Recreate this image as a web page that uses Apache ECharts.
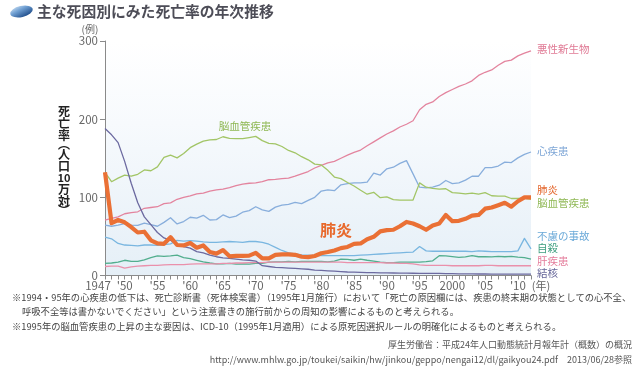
<!DOCTYPE html>
<html><head><meta charset="utf-8">
<script src="https://cdn.jsdelivr.net/npm/echarts@6/dist/echarts.min.js"></script>
<style>html,body{margin:0;padding:0;background:#fff}#c{width:641px;height:392px}</style>
</head><body><div id="c"></div>
<script>
const years = [1947,1948,1949,1950,1951,1952,1953,1954,1955,1956,
 1957,1958,1959,1960,1961,1962,1963,1964,1965,1966,
 1967,1968,1969,1970,1971,1972,1973,1974,1975,1976,
 1977,1978,1979,1980,1981,1982,1983,1984,1985,1986,
 1987,1988,1989,1990,1991,1992,1993,1994,1995,1996,
 1997,1998,1999,2000,2001,2002,2003,2004,2005,2006,
 2007,2008,2009,2010,2011,2012];
const neoplasm = [70.8,73,75,79,80.5,81.5,86,87,88,92,
 93,97.5,100,102,104.5,105.5,108,109.5,110.5,112.5,
 115,117,118,118.5,120,122.5,123,124,124.5,127,
 130,133,137.5,141,144,146,150,154,157.5,160.5,
 166,171,176,181,185,190,193.5,198,212,219,
 222,229,234,238,242,245,249,256,260,263,
 269,274,275.5,281,284.5,287.5];
const heart = [64.5,63,64.5,66.5,64.5,64,67,65,63,68,
 74,66,69,74.5,73.5,77,71,71.5,77.5,74,
 76,81,83,88,84,82,87.5,90,91,93.5,
 92,96,100,108,109.5,108.5,116,117.5,118.5,118.5,
 119.5,131,128.5,136.5,138.5,143.5,147,130,113,112,
 113,115.5,121.5,117.5,118.5,122,127,127,138,138,
 140,145,144.5,150.5,155,158];
const cerebro = [132,120,124.5,128.5,127,129.5,135,134,139,151,
 154,150.5,156,163.5,168,172,173.5,174,177.5,175.5,
 175,175,176.5,178,172.5,169,168.5,165,160,157,
 152,148,142.5,141.5,134.5,126,124,119,114.5,109,
 104,106.5,99.5,100.5,97,96.5,96.5,96.5,118.5,113,
 111.5,110.5,111,106,105.5,104.5,105.5,104,106,102,
 101.5,101.5,98.5,98.5,99,97.5];
const pneumonia = [132,67,71,68,62,55,56,45,41,40.5,
 49,39,38.5,41.5,35.5,38.5,30,28,32.5,24.5,
 25,25,25.5,29,22,22,26.5,27,27,26.5,
 24,23.5,25,28.5,30,32,35,36.5,40.5,41,
 46.5,49.5,56.5,58,58.5,63,68.5,66.5,63,58.5,
 64,66.5,77.5,69.5,70,72.5,76.5,77.5,85.5,87,
 90,93,88,95,100,100];
const accident = [49,47,41,39,38.5,38,39,39,38.5,39.5,
 40.5,45,44,44.5,44,43,42.5,42.5,43,43.5,
 43,42.5,43.5,43.5,42.5,40,36,32,29,27.5,
 26.5,26,25.5,25.5,25.5,25.5,25.5,25.5,25.5,26,
 26.5,27,27.5,28,28.5,29,29.5,30,37,31.5,
 31,31,31,31,31,31,30.5,31.5,31,30.5,
 30.5,30.5,30.5,31.5,47.5,34];
const suicide = [15.5,16,17,19.5,18,18,20,23,25,24.5,
 25,26,23,21.5,19.5,17.5,16,15,15,15.5,
 14.5,15,14.5,15.5,15.5,17,17.5,17.5,18,17.5,
 18,18,18,18,17.5,18.5,21,20.5,19.5,21,
 19.5,18.5,17,16.5,16.5,17,17,17,17.2,17.8,
 18.8,25.4,25,24.1,23.3,23.8,25.5,24,24.2,23.7,
 24.4,24,24.4,23.4,22.9,21];
const liver = [11.5,12,12,9.5,11,12,12.5,13,13,13.5,
 14,14,14,14.5,15,15,15,15,15.5,15.5,
 16,16,16.5,16.5,16.5,17,17,17,17,17,
 17,17,17,17,17,17,17,16.5,16.5,16.5,
 16.5,16.5,16.5,16,16,15.5,15.5,15,13.5,13,
 13,13,13,12.5,12.5,12.5,12.5,12.5,13,13,
 12.5,12.5,12.5,12.5,12.5,12.5];
const tb = [188,180,170,146,118,93,75,65,55,48,
 45,39.5,37,35,30.5,29,26,24,22.5,22,
 21,20,19.5,18.5,12.5,11.5,10.5,10,9.5,9,
 8.5,8,7,6.5,6,5.5,5,4.5,4.3,4,
 3.8,3.6,3.4,3.3,3.2,3.1,3,2.9,2.8,2.7,
 2.6,2.6,2.5,2.3,2.2,2.1,2,1.9,1.9,1.8,
 1.8,1.8,1.7,1.7,1.7,1.7];
const xLabelYears = [1947,1950,1955,1960,1965,1970,1975,1980,1985,1990,1995,2000,2005,2010];
const xLabelTexts = ['1947',"'50","'55","'60","'65","'70","'75","'80","'85","'90","'95",'2000',"'05","'10"];
const yTicks = [0,100,200,300];

const FONT = '"Noto Sans CJK JP","Noto Sans",sans-serif';
const pairs = arr => years.map((y,i)=>[y,arr[i]]);
const seriesDefs = [
  {name:'悪性新生物', data:neoplasm, color:'#e3849e', w:1.3},
  {name:'心疾患', data:heart, color:'#88aedc', w:1.3},
  {name:'脳血管疾患', data:cerebro, color:'#a2c566', w:1.3},
  {name:'不慮の事故', data:accident, color:'#79b6e0', w:1.3},
  {name:'自殺', data:suicide, color:'#52ae8e', w:1.3},
  {name:'肝疾患', data:liver, color:'#ea90ab', w:1.3},
  {name:'結核', data:tb, color:'#6c6aa0', w:1.3},
  {name:'肺炎', data:pneumonia, color:'#ea7035', w:4.2}
];

function txt(x,y,text,color,size,opts){
  opts = opts||{};
  return {type:'text', x:x, y:y, silent:true, z:100,
    style:Object.assign({text:text, fill:color, fontSize:size, fontFamily:FONT,
      textAlign:opts.align||'left', textVerticalAlign:'middle', fontWeight:opts.weight||'normal'}, opts.extra||{})};
}

const chart = echarts.init(document.getElementById('c'), null, {renderer:'canvas'});
const option = {
  animation:false,
  backgroundColor:'#ffffff',
  grid:{left:105, right:110, top:41, bottom:116.5, show:true, borderWidth:0,
    backgroundColor:{type:'linear',x:0,y:0,x2:0,y2:1,colorStops:[
      {offset:0,color:'#ffffff'},{offset:0.35,color:'#f7fafd'},{offset:1,color:'#e5eff7'}]}},
  xAxis:{type:'value', min:1947, max:2012, interval:1,
    axisLine:{lineStyle:{color:'#8a8a8a', width:1}},
    axisTick:{length:4, lineStyle:{color:'#8a8a8a', width:1}},
    splitLine:{show:false},
    axisLabel:{color:'#666', fontSize:11.5, fontFamily:FONT, margin:4,
      formatter:function(v){
        const i = xLabelYears.indexOf(v);
        if(i<0) return '';
        if(v===1947) return '{r|'+xLabelTexts[i]+'}';
        return xLabelTexts[i];
      },
      rich:{r:{color:'#666', fontSize:11.5, fontFamily:FONT, padding:[0,14,0,0]}}
    }},
  yAxis:{type:'value', min:yTicks[0], max:yTicks[yTicks.length-1], interval:100,
    axisLine:{show:true, lineStyle:{color:'#8a8a8a', width:1}},
    axisTick:{show:true, length:5, lineStyle:{color:'#8a8a8a'}},
    splitLine:{show:false},
    axisLabel:{color:'#666', fontSize:11.5, fontFamily:FONT, margin:7}},
  series: seriesDefs.map(s=>({type:'line', name:s.name, data:pairs(s.data), showSymbol:false, symbol:'none',
    silent:true, z: s.w>2?5:2, lineStyle:{color:s.color, width:s.w, join:'round'}})),
  graphic:[
    {type:'circle', x:21.5, y:11.5, rotation:0.22, scaleY:0.48, silent:true, shape:{cx:0,cy:0,r:11.5},
      style:{fill:{type:'linear',x:0,y:0,x2:0.6,y2:1,colorStops:[{offset:0,color:'#cfe2f4'},{offset:0.45,color:'#6f9fd2'},{offset:1,color:'#24528f'}]}}},
    txt(37,11,'主な死因別にみた死亡率の年次推移','#4d4d57',14.8,{weight:'bold'}),
    txt(90,29,'(例)','#666',10,{align:'center'}),
    txt(541,286,'(年)','#666',11,{align:'center'}),
    {type:'text', x:64, y:105, silent:true, z:100, style:{
      text:'{a|死}\n{a|亡}\n{a|率}\n{p|︵}\n{a|人}\n{a|口}\n{d|10}\n{a|万}\n{a|対}\n{p|︶}',
      textAlign:'center', textVerticalAlign:'top', fill:'#222', fontFamily:FONT,
      rich:{a:{fontSize:12, fontWeight:'bold', lineHeight:12, fill:'#222', fontFamily:FONT},
            p:{fontSize:12, fontWeight:'bold', lineHeight:7, fill:'#222', fontFamily:FONT},
            d:{fontSize:11, fontWeight:'bold', lineHeight:11, fill:'#222', fontFamily:FONT}}}},
    txt(537,49,'悪性新生物','#e07a95',10.5),
    txt(537,151.5,'心疾患','#7ea6d6',10.5),
    txt(537,190.5,'肺炎','#e4662c',10.5),
    txt(537,203,'脳血管疾患','#8fb854',10.5),
    txt(537,236,'不慮の事故','#6aa9d8',10.5),
    txt(537,248,'自殺','#3f9f80',10.5),
    txt(537,261,'肝疾患','#e47c9b',10.5),
    txt(537,273,'結核','#67679a',10.5),
    txt(245,126.5,'脳血管疾患','#8fb854',10.5,{align:'center'}),
    txt(336,230,'肺炎','#e8692c',16,{align:'center', weight:'bold'}),
    txt(12,297,'※1994・95年の心疾患の低下は、死亡診断書（死体検案書）（1995年1月施行）において「死亡の原因欄には、疾患の終末期の状態としての心不全、','#444',9.3),
    txt(22,311.5,'呼吸不全等は書かないでください」という注意書きの施行前からの周知の影響によるものと考えられる。','#444',9.3),
    txt(12,326.5,'※1995年の脳血管疾患の上昇の主な要因は、ICD-10（1995年1月適用）による原死因選択ルールの明確化によるものと考えられる。','#444',9.3),
    txt(632,345,'厚生労働省：平成24年人口動態統計月報年計（概数）の概況','#555',9,{align:'right'}),
    txt(632,360,'http://www.mhlw.go.jp/toukei/saikin/hw/jinkou/geppo/nengai12/dl/gaikyou24.pdf　2013/06/28参照','#555',9,{align:'right'})
  ]
};
chart.setOption(option);
</script>
</body></html>
